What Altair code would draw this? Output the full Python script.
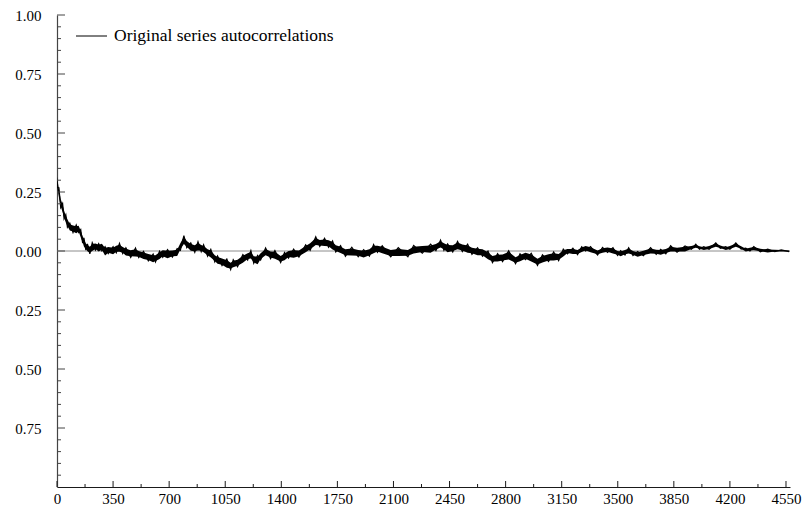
import altair as alt
import pandas as pd

# Autocorrelation of the original series, by lag
lags = [
    0, 12, 23, 35, 44, 55, 65, 80, 100, 120, 135, 148, 160, 168, 180, 190,
    205, 220, 240, 260, 280, 300, 320, 350, 370, 390, 410, 430, 460, 490,
    510, 540, 570, 600, 615, 640, 660, 690, 720, 750, 770, 792, 810, 835,
    860, 880, 900, 915, 940, 960, 985, 1002, 1030, 1060, 1084, 1100, 1127,
    1160, 1190, 1210, 1228, 1252, 1271, 1302, 1333, 1360, 1396, 1420, 1445,
    1477, 1510, 1552, 1580, 1615, 1640, 1670, 1695, 1720, 1740, 1770, 1800,
    1840, 1880, 1914, 1950, 1976, 2000, 2030, 2083, 2130, 2190, 2226, 2280,
    2332, 2365, 2394, 2415, 2438, 2470, 2500, 2530, 2563, 2590, 2625, 2656,
    2690, 2718, 2750, 2781, 2819, 2862, 2890, 2924, 2960, 2999, 3030, 3068,
    3100, 3131, 3160, 3186, 3220, 3249, 3275, 3299, 3330, 3374, 3405, 3436,
    3470, 3499, 3518, 3545, 3568, 3595, 3624, 3660, 3705, 3740, 3768, 3800,
    3830, 3870, 3920, 3960, 3987, 4010, 4037, 4070, 4112, 4140, 4174, 4200,
    4237, 4270, 4299, 4325, 4349, 4390, 4436, 4480, 4520, 4570,
]
acf = [
    0.295, 0.245, 0.205, 0.180, 0.157, 0.135, 0.120, 0.100, 0.095, 0.090,
    0.095, 0.072, 0.050, 0.035, 0.020, 0.012, 0.005, 0.015, 0.020, 0.012,
    0.018, -0.003, 0.005, 0.000, 0.010, 0.012, 0.005, -0.005, -0.010, -0.008,
    -0.012, -0.020, -0.025, -0.033, -0.030, -0.020, -0.010, -0.015, -0.010,
    -0.008, 0.020, 0.045, 0.030, 0.015, 0.012, 0.018, 0.013, 0.008, -0.005,
    -0.013, -0.030, -0.040, -0.045, -0.055, -0.062, -0.055, -0.050, -0.035,
    -0.022, -0.018, -0.035, -0.040, -0.022, -0.005, -0.015, -0.018, -0.033,
    -0.025, -0.013, -0.013, -0.010, 0.008, 0.020, 0.040, 0.035, 0.035, 0.033,
    0.022, 0.012, 0.005, -0.005, -0.004, -0.008, -0.013, -0.005, 0.006, 0.010,
    0.004, -0.008, -0.006, -0.008, 0.004, 0.008, 0.008, 0.018, 0.028, 0.020,
    0.010, 0.012, 0.022, 0.015, 0.008, 0.002, -0.004, -0.005, -0.020, -0.033,
    -0.030, -0.028, -0.020, -0.038, -0.030, -0.020, -0.030, -0.045, -0.035,
    -0.027, -0.025, -0.025, -0.010, 0.000, -0.002, -0.004, 0.005, 0.012,
    0.005, -0.006, 0.002, 0.006, 0.000, -0.008, -0.012, -0.005, 0.000, -0.008,
    -0.015, -0.008, 0.000, -0.003, -0.006, 0.000, 0.008, 0.006, 0.008, 0.015,
    0.020, 0.015, 0.010, 0.015, 0.025, 0.018, 0.010, 0.015, 0.025, 0.015,
    0.004, 0.008, 0.010, 0.004, 0.000, 0.002, 0.001, 0.000,
]
# Half-width of the short-lag jitter around each value
spread = (
    [0.026, 0.023, 0.021, 0.021, 0.020, 0.019, 0.019, 0.018]
    + [0.017, 0.020, 0.016, 0.019, 0.017, 0.021, 0.016, 0.018] * 14
    + [0.012, 0.014, 0.011, 0.013] * 6
    + [0.008, 0.009, 0.007, 0.008] * 4
    + [0.005, 0.004, 0.003, 0.002, 0.002, 0.001, 0.001]
)
spread = spread[: len(lags)] + [0.001] * (len(lags) - len(spread))

legend_label = ["Original series autocorrelations"]

x_major = list(range(0, 4551, 350))
x_minor = list(range(175, 4551, 350))
y_major = [-0.75, -0.5, -0.25, 0.0, 0.25, 0.5, 0.75, 1.0]
y_minor = [round(-0.95 + 0.05 * i, 2) for i in range(39)]
y_minor = [v for v in y_minor if abs(round(v / 0.25) * 0.25 - v) > 1e-6]

W, H = 733, 472
FONT = "Liberation Serif, Times New Roman, DejaVu Serif, serif"
INK = "#1a1a1a"

df = pd.DataFrame({"lag": lags, "acf": acf, "spread": spread})

xs = alt.Scale(domain=[0, 4575], nice=False, zero=False)
ys = alt.Scale(domain=[-1, 1], nice=False, zero=False)

x_axis = alt.Axis(
    values=x_major, ticks=False, grid=False, title=None, format="d",
    domainColor=INK, domainWidth=1.2,
    labelFont=FONT, labelFontSize=15, labelColor="black",
    labelPadding=4, labelFlush=False, labelOverlap=False,
)
y_axis = alt.Axis(
    values=y_major, ticks=False, grid=False, title=None,
    domainColor="#444", domainWidth=1.2,
    labelFont=FONT, labelFontSize=15, labelColor="black",
    labelPadding=16, labelFlush=False, labelOverlap=False,
    labelExpr="format(abs(datum.value), '.2f')",
)

X = alt.X("lag:Q", scale=xs, axis=x_axis)

zero_line = alt.Chart(pd.DataFrame({"z": [0.0]})).mark_rule(
    color="#8c8c8c", strokeWidth=1
).encode(y=alt.Y("z:Q", scale=ys, axis=y_axis))

# Solid core of the jittery trace
band = alt.Chart(df).transform_calculate(
    lo="datum.acf - 0.75 * datum.spread", hi="datum.acf + 0.75 * datum.spread"
).mark_area(color="black", interpolate="linear").encode(
    x=X, y=alt.Y("lo:Q", scale=ys, axis=y_axis), y2="hi:Q"
)

# Trace bouncing between the upper and lower jitter envelope
series = alt.Chart(df).transform_window(
    idx="row_number()"
).transform_calculate(
    zig="datum.acf + (datum.idx % 2 == 0 ? 1 : -1) * datum.spread"
).mark_line(color="black", strokeWidth=1.2).encode(
    x=X, y=alt.Y("zig:Q", scale=ys, axis=y_axis)
)

# Inward-pointing tick marks along both axes
def y_ticks(values, length):
    return alt.Chart(pd.DataFrame({"v": values})).mark_rule(
        color="#444", strokeWidth=1
    ).encode(
        y=alt.Y("v:Q", scale=ys, axis=y_axis),
        x=alt.value(0), x2=alt.value(length),
    )

def x_ticks(values, length):
    return alt.Chart(pd.DataFrame({"v": values})).mark_rule(
        color=INK, strokeWidth=1
    ).encode(
        x=alt.X("v:Q", scale=xs, axis=x_axis),
        y=alt.value(H), y2=alt.value(H - length),
    )

legend_key = alt.Chart(pd.DataFrame({"k": [0]})).mark_rule(
    color="black", strokeWidth=1
).encode(x=alt.value(19), x2=alt.value(50), y=alt.value(21))

legend_text = alt.Chart(pd.DataFrame({"label": legend_label})).mark_text(
    align="left", baseline="middle", font=FONT, fontSize=17.5, color="black"
).encode(x=alt.value(57), y=alt.value(21), text="label:N")

chart = alt.layer(
    zero_line, band, series,
    y_ticks(y_major, 8), y_ticks(y_minor, 4),
    x_ticks(x_major, 6), x_ticks(x_minor, 3),
    legend_key, legend_text,
).properties(
    width=W, height=H,
    autosize=alt.AutoSizeParams(type="none"),
    padding={"left": 57, "top": 15, "right": 16, "bottom": 22},
    background="white",
).configure_view(stroke=None)

chart.save("out.html", embed_options={"renderer": "svg", "actions": False})
